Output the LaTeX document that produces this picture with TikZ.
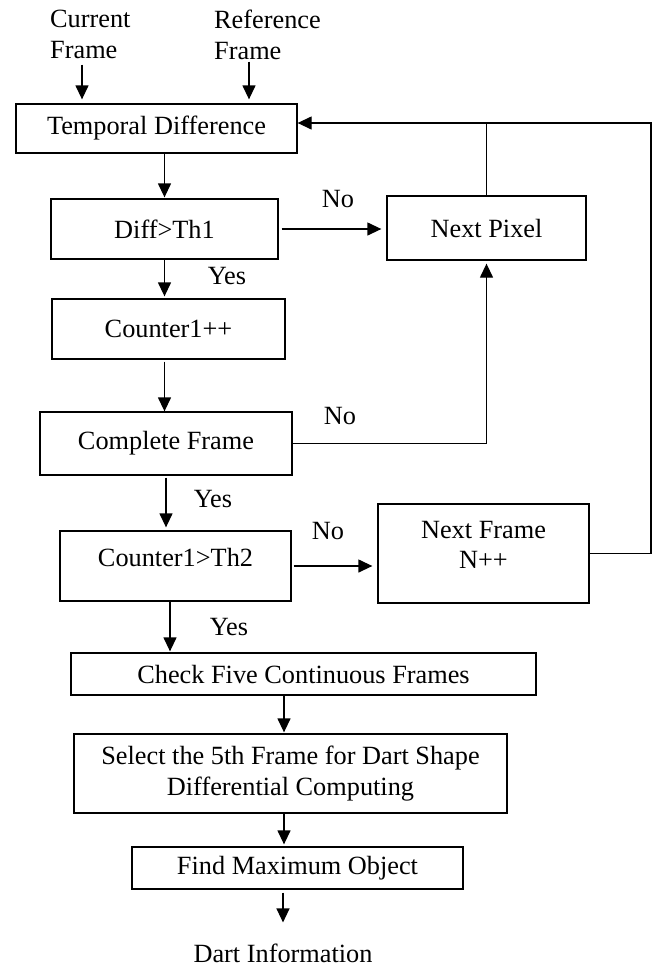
\documentclass[tikz,border=0pt]{standalone}
\usepackage{fontspec}
\setmainfont{Liberation Serif}
\usetikzlibrary{arrows.meta,calc}
\begin{document}
\begin{tikzpicture}[x=1pt,y=-1pt,
  every node/.style={font=\fontsize{26.3}{30.5}\selectfont},
  box/.style={draw, line width=1.3pt, inner sep=0pt},
  lbl/.style={inner sep=0pt},
  arr/.style={-{Triangle[width=13pt,length=14pt]}, line width=1.3pt},
  ln/.style={line width=1.3pt}]
\useasboundingbox (0,0) rectangle (659,967);
% boxes
\node[box, minimum width=281pt, minimum height=49pt] (td) at (156.5,128.5) {Temporal Difference};
\node[box, minimum width=227pt, minimum height=60pt] (diff) at (164.5,229) {Diff>Th1};
\node[box, minimum width=199pt, minimum height=64pt] (np) at (486.5,228) {Next Pixel};
\node[box, minimum width=233pt, minimum height=60pt] (c1) at (168.5,329) {Counter1++};
\node[box, minimum width=252pt, minimum height=63pt] (cf) at (166,443.5) {Complete Frame};
\node[box, minimum width=231pt, minimum height=70pt] (c2) at (175.5,566) {};
\node[lbl] (c2t) at (175.5,557) {Counter1>Th2};
\node[box, minimum width=211pt, minimum height=99pt] (nf) at (483.5,553.5) {};
\node[lbl, align=center] (nft) at (483.5,545) {Next Frame\\N++};
\node[box, minimum width=465pt, minimum height=42pt] (ck) at (303.5,674) {Check Five Continuous Frames};
\node[box, minimum width=433pt, minimum height=79pt, align=center] (se) at (290.5,773.5) {Select the 5th Frame for Dart Shape\\Differential Computing};
\node[box, minimum width=331pt, minimum height=42pt] (fm) at (297.5,868) {Find Maximum Object};
\node[lbl] (di) at (283,953) {Dart Information};
% inputs
\node[lbl, align=left, anchor=north west] (cur) at (50,10) {Current\\Frame};
\node[lbl, align=left, anchor=north west] (ref) at (214,10) {Reference\\Frame};
% labels
\node[lbl] (no1) at (338,199) {No};
\node[lbl] (yes1) at (227,276) {Yes};
\node[lbl] (no2) at (340,416) {No};
\node[lbl] (yes2) at (213,499) {Yes};
\node[lbl] (no3) at (328,531) {No};
\node[lbl] (yes3) at (229,627) {Yes};
% helper coordinates
\coordinate (xc) at (82,0);
\coordinate (xr) at (249,0);
\coordinate (xc2) at (170,0);
\coordinate (xm) at (284,0);
\coordinate (fb) at (651,123);
% connectors
\draw[arr, shorten <=6pt, shorten >=4pt] (cur.south -| xc) -- (td.north -| xc);
\draw[arr, shorten <=2pt, shorten >=4pt] (ref.south -| xr) -- (td.north -| xr);
\draw[arr, shorten >=1pt] (td.south -| diff.north) -- (diff.north);
\draw[arr, shorten <=3pt, shorten >=5pt] (diff.east) -- (diff.east -| np.west);
\draw[ln] (np.north) -- (np.north |- fb);
\draw[arr] (nf.east) -| (fb) -- (fb -| td.east);
\draw[arr, shorten >=2pt] (diff.south) -- (c1.north -| diff.south);
\draw[arr, shorten <=2pt] (c1.south -| diff.south) -- (cf.north -| diff.south);
\draw[arr, shorten >=3pt] (cf.east) -| (np.south);
\draw[arr, shorten <=2pt, shorten >=3pt] (cf.south) -- (c2.north -| cf.south);
\draw[arr, shorten <=2pt, shorten >=5pt] (c2.east) -- (c2.east -| nf.west);
\draw[arr, shorten >=1pt] (c2.south -| xc2) -- (ck.north -| xc2);
\draw[arr, shorten >=1pt] (ck.south -| xm) -- (se.north -| xm);
\draw[arr, shorten >=2pt] (se.south -| xm) -- (fm.north -| xm);
\draw[arr, shorten <=3pt, shorten >=21pt] (fm.south -| di.north) -- (di.north);
\end{tikzpicture}
\end{document}
